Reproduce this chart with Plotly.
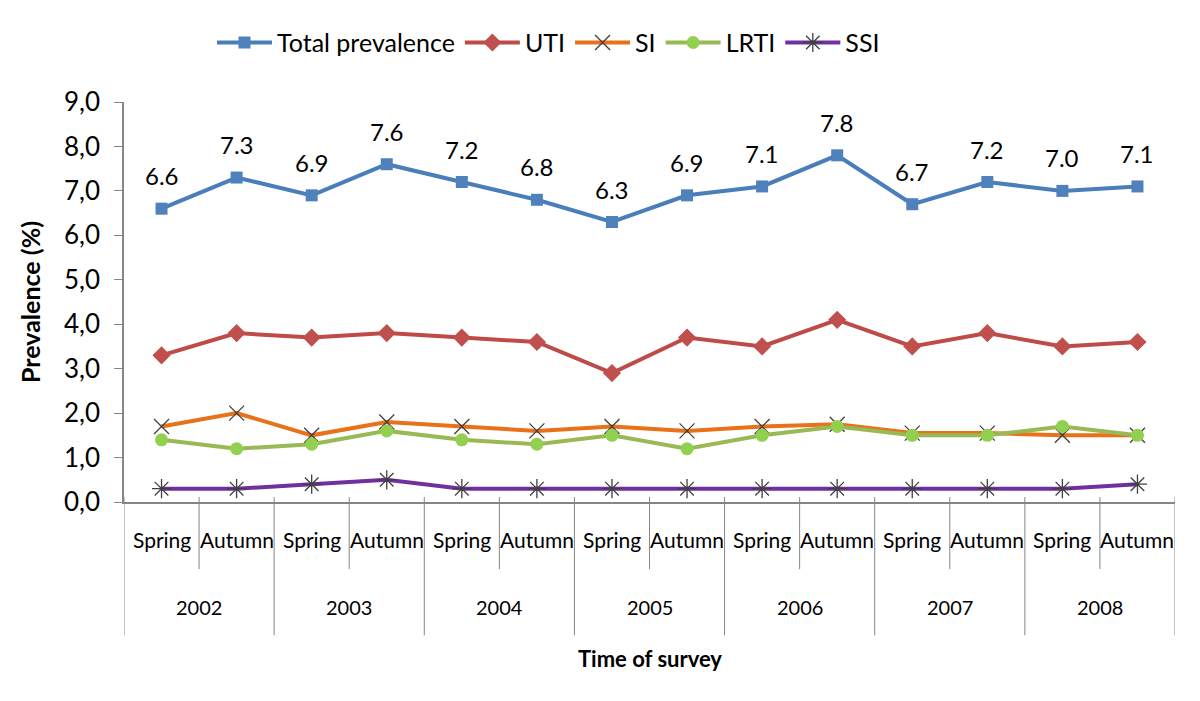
import plotly.graph_objects as go

seasons = ["Spring", "Autumn"] * 7
years = ["2002", "2003", "2004", "2005", "2006", "2007", "2008"]

total = [6.6, 7.3, 6.9, 7.6, 7.2, 6.8, 6.3, 6.9, 7.1, 7.8, 6.7, 7.2, 7.0, 7.1]
uti = [3.3, 3.8, 3.7, 3.8, 3.7, 3.6, 2.9, 3.7, 3.5, 4.1, 3.5, 3.8, 3.5, 3.6]
si = [1.7, 2.0, 1.5, 1.8, 1.7, 1.6, 1.7, 1.6, 1.7, 1.75, 1.55, 1.55, 1.5, 1.5]
lrti = [1.4, 1.2, 1.3, 1.6, 1.4, 1.3, 1.5, 1.2, 1.5, 1.7, 1.5, 1.5, 1.7, 1.5]
ssi = [0.3, 0.3, 0.4, 0.5, 0.3, 0.3, 0.3, 0.3, 0.3, 0.3, 0.3, 0.3, 0.3, 0.4]

FONT = "Lato"
xs = list(range(len(seasons)))

OFF = 8  # page body margin
W, H = 1200, 701
ML, MR, MT, MB = 124 - OFF, 33, 97 - OFF, 207
PH = H - MT - MB
PW = W - ML - MR


def py(pix):
    return (H - MB - (pix - OFF)) / PH


def px(pix):
    return (pix - OFF - ML) / PW


fig = go.Figure()

series = [
    ("Total prevalence", total, "#4A7EBB", dict(symbol="square", size=12, color="#4F81BD")),
    ("UTI", uti, "#BE4B48", dict(symbol="diamond", size=14, color="#C0504D")),
    ("SI", si, "#E8711A", dict(symbol="x-thin-open", size=15, color="#404040", line=dict(width=1.3, color="#404040"))),
    ("LRTI", lrti, "#98B954", dict(symbol="circle", size=13, color="#92D050")),
    ("SSI", ssi, "#7030A0", dict(symbol="asterisk-open", size=16, color="#404040", line=dict(width=1.3, color="#404040"))),
]

for name, vals, lc, mk in series:
    fig.add_trace(go.Scatter(
        x=xs, y=vals, name=name, mode="lines+markers",
        line=dict(color=lc, width=4), marker=mk,
    ))

annotations = []
for i, v in enumerate(total):
    annotations.append(dict(x=xs[i], y=v, xref="x", yref="y", text=f"{v:.1f}",
                            xanchor="center", yanchor="middle",
                            showarrow=False, yshift=33, font=dict(family=FONT, size=24, color="#000")))

for i, s in enumerate(seasons):
    annotations.append(dict(x=xs[i], y=py(540), xref="x", yref="paper", text=s,
                            xanchor="center", yanchor="middle",
                            showarrow=False, font=dict(family=FONT, size=21, color="#000")))

for j, yr in enumerate(years):
    annotations.append(dict(x=2 * j + 0.5, y=py(608), xref="x", yref="paper", text=yr,
                            xanchor="center", yanchor="middle",
                            showarrow=False, font=dict(family=FONT, size=20, color="#000")))

annotations.append(dict(x=6.5, y=py(660), xref="x", yref="paper", text="<b>Time of survey</b>",
                        xanchor="center", yanchor="middle",
                        showarrow=False, font=dict(family=FONT, size=22, color="#000")))

shapes = []
for j in range(len(years)):
    shapes.append(dict(type="line", xref="x", yref="paper", x0=2 * j + 0.5, x1=2 * j + 0.5,
                       y0=py(497), y1=py(570), line=dict(color="#868686", width=1)))
for j in range(len(years) + 1):
    shapes.append(dict(type="line", xref="x", yref="paper", x0=2 * j - 0.5, x1=2 * j - 0.5,
                       y0=py(497), y1=py(637), line=dict(color="#868686", width=1)))

fig.update_layout(
    width=W, height=H,
    margin=dict(l=ML, r=MR, t=MT, b=MB),
    plot_bgcolor="white", paper_bgcolor="white",
    separators=",.",
    font=dict(family=FONT, size=20, color="#000"),
    showlegend=True,
    legend=dict(orientation="h", x=px(212), xanchor="left", y=py(37), yanchor="middle",
                font=dict(family=FONT, size=25, color="#000"), itemwidth=55),
    annotations=annotations,
    shapes=shapes,
)

fig.update_xaxes(range=[-0.5, 13.5], showticklabels=False, showgrid=False, zeroline=False,
                 showline=True, linecolor="#868686", linewidth=1.5, ticks="")
fig.update_yaxes(range=[0, 9], dtick=1, tickformat=".1f", showgrid=False, zeroline=False,
                 showline=True, linecolor="#868686", linewidth=1.5, ticks="outside", ticklen=8,
                 tickcolor="#868686", ticklabelstandoff=9,
                 tickfont=dict(family=FONT, size=26, color="#000"),
                 title=dict(text="<b>Prevalence (%)</b>", font=dict(family=FONT, size=25, color="#000"), standoff=16))

fig.write_html("out.html")
